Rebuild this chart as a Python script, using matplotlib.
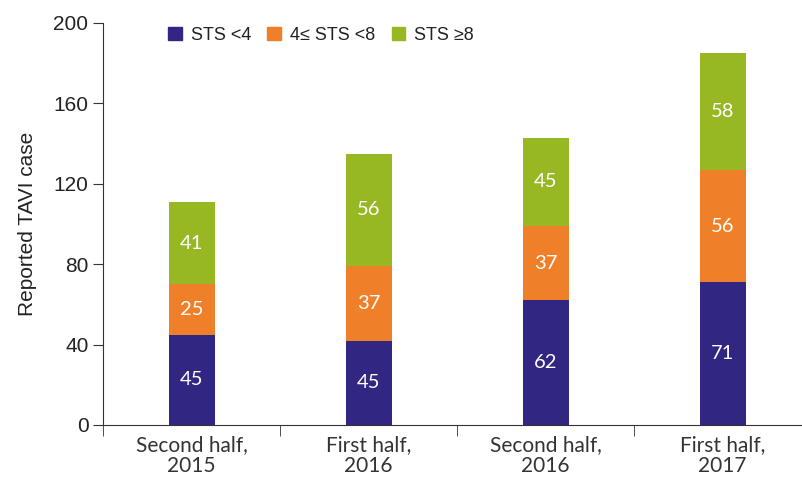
import matplotlib.pyplot as plt
import matplotlib.patches as mpatches
import numpy as np

periods = ['Second half,\n2015', 'First half,\n2016', 'Second half,\n2016', 'First half,\n2017']
# segment heights as drawn, and the numbers printed inside them
sts_low = [45, 42, 62, 71]
sts_mid = [25, 37, 37, 56]
sts_high = [41, 56, 44, 58]
low_labels = ['45', '45', '62', '71']
mid_labels = ['25', '37', '37', '56']
high_labels = ['41', '56', '45', '58']
yticks = [0, 40, 80, 120, 160, 200]

colors = ['#312682', '#F07F2A', '#97B723']
names = ['STS <4', '4\u2264 STS <8', 'STS \u22658']

fig = plt.figure(figsize=(8.02, 4.8), dpi=100)
ax = fig.add_axes([103/802, 55/480, 708/802, 402/480])

x = np.arange(len(periods))
w = 46/177
bottom = np.zeros(len(periods))
for vals, labs, c in zip([sts_low, sts_mid, sts_high], [low_labels, mid_labels, high_labels], colors):
    ax.bar(x, vals, w, bottom=bottom, color=c, zorder=2)
    for xi, b, v, t in zip(x, bottom, vals, labs):
        ax.text(xi, b + v/2, t, ha='center', va='center', color='white',
                fontsize=14.5, family='Lato')
    bottom = bottom + np.array(vals)

ax.set_xlim(-0.5, 3.5)
ax.set_ylim(0, 200)
ax.set_yticks(yticks)
ax.tick_params(axis='y', labelsize=15, length=7, color='#333333', labelcolor='#222222')
for lab in ax.get_yticklabels():
    lab.set_family('Liberation Sans')

ax.set_xticks(x)
ax.set_xticklabels(periods, fontsize=15, family='Lato', color='#333333', linespacing=1.1)
ax.tick_params(axis='x', length=0, pad=7)
ax.set_xticks(np.arange(-0.5, 4, 1), minor=True)
ax.tick_params(axis='x', which='minor', length=8, color='#333333')

for s in ['top', 'right']:
    ax.spines[s].set_visible(False)
for s in ['left', 'bottom']:
    ax.spines[s].set_color('#333333')

ax.set_ylabel('Reported TAVI case', fontsize=15, family='Liberation Sans', color='#222222', labelpad=12)

handles = [mpatches.Patch(color=c, label=n) for c, n in zip(colors, names)]
leg = ax.legend(handles=handles, ncol=3, frameon=False, loc='center left',
                bbox_to_anchor=(0.082, 0.97), handlelength=0.75, handleheight=0.75,
                handletextpad=0.5, columnspacing=0.9, borderaxespad=0,
                prop={'family': 'Liberation Sans', 'size': 13})
for t in leg.get_texts():
    t.set_color('#222222')

fig.savefig('out.png', dpi=100)
